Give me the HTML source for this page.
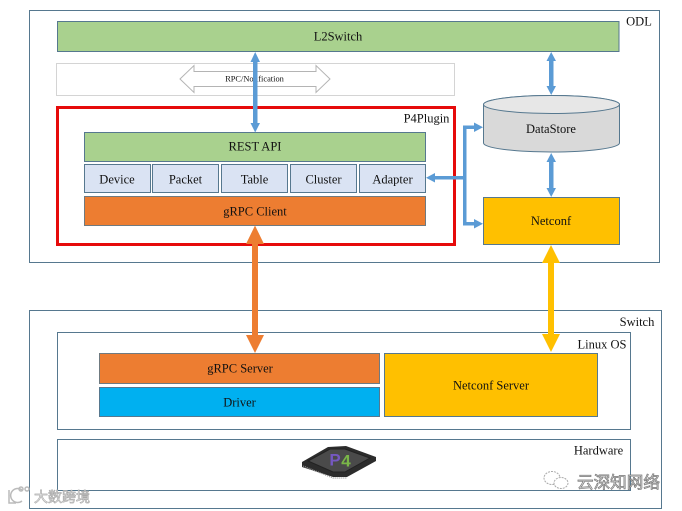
<!DOCTYPE html>
<html>
<head>
<meta charset="utf-8">
<style>
html,body{margin:0;padding:0;background:#fff}
svg{display:block;filter:blur(0.3px)}
text{font-family:"Liberation Serif","Noto Serif CJK SC",serif;font-size:12.500px;fill:#111;text-anchor:middle}
.r{fill:none;stroke:#56788f;stroke-width:1}
.s{stroke:#56788f;stroke-width:1}
.wm{font-family:"Liberation Sans","Noto Sans CJK SC",sans-serif;fill:#fff;stroke:#aaa;stroke-width:.7px;text-anchor:start}
</style>
</head>
<body>
<svg width="682" height="511" viewBox="0 0 682 511" xmlns="http://www.w3.org/2000/svg">
<rect width="682" height="511" fill="#fff"/>
<rect class="r" x="29.5" y="10.5" width="630" height="252"/>
<rect class="r" x="29.5" y="310.5" width="632" height="198"/>
<rect class="r" x="57.5" y="332.5" width="573" height="97"/>
<rect class="r" x="57.5" y="439.5" width="573" height="51"/>

<rect class="s" x="57.5" y="21.5" width="561.5" height="30" fill="#a9d18e"/>
<text x="338" y="40.500">L2Switch</text>
<text x="639" y="25.500">ODL</text>

<rect x="56.5" y="63.5" width="398" height="32" fill="#fff" stroke="#d4d4d4"/>
<polygon points="180,79 194,65.500 194,71.500 316,71.500 316,65.500 330,79 316,92.500 316,86.500 194,86.500 194,92.500" fill="#fff" stroke="#b4b4b4" stroke-width="1"/>
<text x="254.500" y="81.500" style="font-size:8.400px">RPC/Notification</text>

<rect x="57.500" y="107.500" width="397" height="137" fill="none" stroke="#e60b0b" stroke-width="3"/>
<text x="426.500" y="122.500">P4Plugin</text>

<rect class="s" x="84.500" y="132.500" width="341" height="29" fill="#a9d18e"/>
<text x="255" y="150.500">REST API</text>
<g fill="#dae3f3" class="s">
<rect x="84.500" y="164.500" width="66" height="28"/>
<rect x="152.500" y="164.500" width="66" height="28"/>
<rect x="221.500" y="164.500" width="66" height="28"/>
<rect x="290.500" y="164.500" width="66" height="28"/>
<rect x="359.500" y="164.500" width="66" height="28"/>
</g>
<text x="117" y="183.500">Device</text>
<text x="185.500" y="183.500">Packet</text>
<text x="254.500" y="183.500">Table</text>
<text x="323.500" y="183.500">Cluster</text>
<text x="392.500" y="183.500">Adapter</text>
<rect x="84.500" y="196.500" width="341" height="29" fill="#ed7d31" stroke="#6f7a80"/>
<text x="255" y="215.500">gRPC Client</text>

<path d="M483.500 104.500 A68 9 0 0 1 619.500 104.500 V143 A68 9 0 0 1 483.500 143 Z" fill="#d9d9d9" class="s"/>
<ellipse cx="551.500" cy="104.500" rx="68" ry="9" fill="#e7e7e7" class="s"/>
<text x="551" y="133">DataStore</text>

<rect class="s" x="483.500" y="197.500" width="136" height="47" fill="#ffc000"/>
<text x="551" y="225">Netconf</text>

<g fill="#5b9bd5">
<rect x="253" y="60" width="4.500" height="65"/>
<polygon points="255.200,52 250.500,62 260,62"/>
<polygon points="255.200,132.500 250.500,123 260,123"/>
<rect x="549" y="60" width="4.500" height="28"/>
<polygon points="551.200,52 546.500,61 556,61"/>
<polygon points="551.200,95 546.500,86 556,86"/>
<rect x="549" y="160" width="4.500" height="30"/>
<polygon points="551.200,153 546.500,162 556,162"/>
<polygon points="551.200,197 546.500,188 556,188"/>
<rect x="432" y="176" width="32" height="3.500"/>
<polygon points="426,177.700 435,173 435,182.500"/>
<rect x="463" y="125.500" width="3.500" height="99"/>
<rect x="463" y="125.500" width="15" height="3.500"/>
<rect x="463" y="222" width="15" height="3.500"/>
<polygon points="483,127.200 474,122.500 474,132"/>
<polygon points="483,223.700 474,219 474,228.500"/>
</g>

<g fill="#ed7d31">
<rect x="252" y="240" width="6" height="98"/>
<polygon points="255,225.500 246,244 264,244"/>
<polygon points="255,353 246,335 264,335"/>
</g>
<g fill="#ffc000">
<rect x="548" y="258" width="6" height="78"/>
<polygon points="551,245 542,263 560,263"/>
<polygon points="551,352 542,334 560,334"/>
</g>

<text x="637" y="326">Switch</text>
<text x="602" y="348.500">Linux OS</text>
<text x="598.500" y="454.500">Hardware</text>

<rect x="99.500" y="353.500" width="280" height="30" fill="#ed7d31" stroke="#6f7a80"/>
<text x="240" y="372.500">gRPC Server</text>
<rect class="s" x="99.500" y="387.500" width="280" height="29" fill="#00b0f0"/>
<text x="239.500" y="406.500">Driver</text>
<rect class="s" x="384.500" y="353.500" width="213" height="63" fill="#ffc000"/>
<text x="491" y="389.500">Netconf Server</text>

<polygon points="302,462 328,447 346,446 376,457 376,461 347,477 333,477 302,467" fill="#2c2c2c"/>
<path d="M303 466 L333 478 H347" fill="none" stroke="#999" stroke-width="1.200" stroke-dasharray="1 1"/>
<polygon points="308,461 330,449 345,449 370,458 345,472 333,472" fill="#4a4a4a" stroke="#222"/>
<text x="335" y="465.500" style="font-size:17px;font-weight:bold;font-family:'Liberation Sans',sans-serif;fill:#7558c0">P</text>
<text x="346" y="466.500" style="font-size:17px;font-weight:bold;font-family:'Liberation Sans',sans-serif;fill:#7ab648">4</text>

<g fill="none" stroke="#bbb" stroke-width="1.500">
<path d="M9 490 V503 H16 M22 490 A7 7 0 1 0 22 501"/>
<circle cx="21" cy="489" r="2"/><circle cx="27" cy="489" r="2"/>
</g>
<g fill="#fff" stroke="#aaa" stroke-width="1" stroke-dasharray="2 1">
<ellipse cx="552" cy="478" rx="8" ry="6.500"/>
<ellipse cx="561" cy="483" rx="7" ry="5.500"/>
</g>
<text class="wm" x="34" y="502" style="font-size:14px">大数跨境</text>
<text class="wm" x="577" y="488" style="font-size:16.600px;stroke:#777;fill:#e4e4e4">云深知网络</text>
</svg>
</body>
</html>
